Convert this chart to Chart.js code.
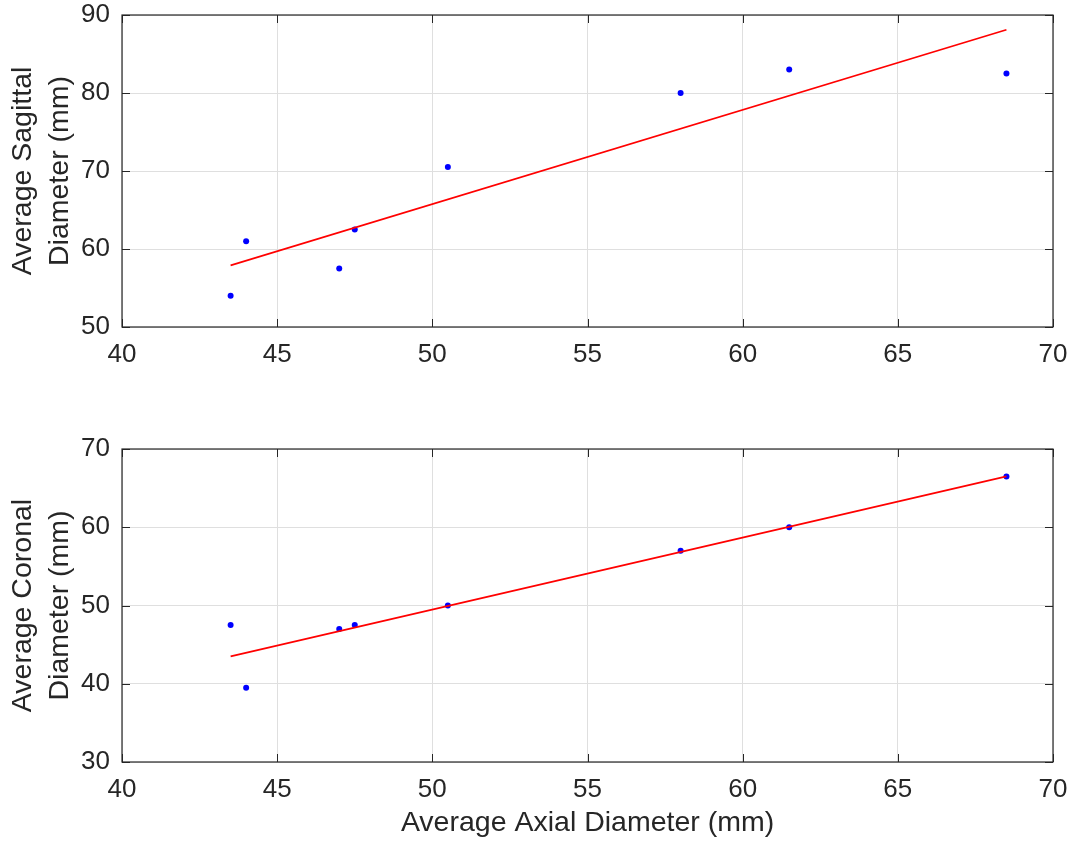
<!DOCTYPE html>
<html>
<head>
<meta charset="utf-8">
<script src="https://cdn.jsdelivr.net/npm/chart.js@4/dist/chart.umd.min.js"></script>
<style>
  html, body { margin: 0; padding: 0; background: #fff; }
  #wrap { position: relative; width: 1070px; height: 843px; }
  canvas { position: absolute; left: 0; }
  #sagittal-chart { top: 0; }
  #coronal-chart { top: 400px; }
</style>
</head>
<body>
<div id="wrap">
  <canvas id="sagittal-chart" width="1070" height="400"></canvas>
  <canvas id="coronal-chart" width="1070" height="443"></canvas>
</div>
<script>
const axialDiameter = [43.5, 44, 47, 47.5, 50.5, 58, 61.5, 68.5];
const sagittalDiameter = [54, 61, 57.5, 62.5, 70.5, 80, 83, 82.5];
const coronalDiameter = [47.5, 39.5, 47, 47.5, 50, 57, 60, 66.5];
/* fit line end points */
const fitAxial = [43.5, 68.5];
const sagittalFit = [57.9, 88.1];
const coronalFit = [43.5, 66.5];
const xTicks = [40, 45, 50, 55, 60, 65, 70];
const sagittalTicks = [50, 60, 70, 80, 90];
const coronalTicks = [30, 40, 50, 60, 70];

const textColor = "#262626";
const fontFamily = "'Liberation Sans', Arial, Helvetica, sans-serif";

function toPoints(xs, ys) {
  return xs.map((x, i) => ({ x: x, y: ys[i] }));
}

/* matlab style box with inward ticks on all four sides */
const boxPlugin = {
  id: "boxPlugin",
  afterDatasetsDraw(chart) {
    const { ctx, chartArea: a, scales } = chart;
    const len = 8;
    ctx.save();
    ctx.strokeStyle = textColor;
    ctx.lineWidth = 1;
    ctx.beginPath();
    scales.x.ticks.forEach((t) => {
      const px = Math.round(scales.x.getPixelForValue(t.value)) + 0.5;
      ctx.moveTo(px, a.bottom);
      ctx.lineTo(px, a.bottom - len);
      ctx.moveTo(px, a.top);
      ctx.lineTo(px, a.top + len);
    });
    scales.y.ticks.forEach((t) => {
      const py = Math.round(scales.y.getPixelForValue(t.value)) + 0.5;
      ctx.moveTo(a.left, py);
      ctx.lineTo(a.left + len, py);
      ctx.moveTo(a.right, py);
      ctx.lineTo(a.right - len, py);
    });
    ctx.stroke();
    ctx.lineWidth = 1.2;
    ctx.strokeRect(a.left, a.top, a.right - a.left, a.bottom - a.top);
    ctx.restore();
  },
};

function makeChart(el, yValues, fitValues, yTicks, yTitle, xTitle, opts) {
  return new Chart(el, {
    type: "scatter",
    data: {
      datasets: [
        {
          /* fit line first so it draws on top */
          type: "line",
          data: toPoints(fitAxial, fitValues),
          borderColor: "#ff0000",
          borderWidth: 1.6,
          pointRadius: 0,
          fill: false,
        },
        {
          data: toPoints(axialDiameter, yValues),
          backgroundColor: "#0000ff",
          borderColor: "#0000ff",
          pointRadius: 3,
          borderWidth: 0,
        },
      ],
    },
    options: {
      responsive: false,
      animation: false,
      devicePixelRatio: 1,
      layout: {
        padding: { left: 0, right: 17, top: opts.top, bottom: 0 },
      },
      plugins: {
        legend: { display: false },
        tooltip: { enabled: false },
      },
      scales: {
        x: {
          type: "linear",
          min: 40,
          max: 70,
          afterBuildTicks: (s) => {
            s.ticks = xTicks.map((v) => ({ value: v }));
          },
          afterFit: (s) => {
            s.height = opts.xHeight;
            s.paddingLeft = 0;
            s.paddingRight = 0;
          },
          grid: {
            color: "#dfdfdf",
            drawTicks: false,
          },
          border: { display: false },
          ticks: {
            padding: 12,
            color: textColor,
            font: { family: fontFamily, size: 26 },
          },
          title: {
            display: xTitle !== "",
            text: xTitle,
            color: textColor,
            padding: { top: 0, bottom: 1 },
            font: { family: fontFamily, size: 28.5, lineHeight: 1.32 },
          },
        },
        y: {
          type: "linear",
          min: yTicks[0],
          max: yTicks[yTicks.length - 1],
          afterBuildTicks: (s) => {
            s.ticks = yTicks.map((v) => ({ value: v }));
          },
          afterFit: (s) => {
            s.width = 122;
            s.paddingTop = 0;
            s.paddingBottom = 0;
          },
          grid: {
            color: "#dfdfdf",
            drawTicks: false,
          },
          border: { display: false },
          ticks: {
            padding: 12,
            color: textColor,
            font: { family: fontFamily, size: 26 },
          },
          title: {
            display: true,
            text: yTitle,
            color: textColor,
            padding: { top: 4, bottom: 0 },
            font: { family: fontFamily, size: 28.5, lineHeight: 1.32 },
          },
        },
      },
    },
    plugins: [boxPlugin],
  });
}

makeChart(
  document.querySelector("#sagittal-chart"),
  sagittalDiameter,
  sagittalFit,
  sagittalTicks,
  ["Average Sagittal", "Diameter (mm)"],
  "",
  { top: 15, xHeight: 73 }
);
makeChart(
  document.querySelector("#coronal-chart"),
  coronalDiameter,
  coronalFit,
  coronalTicks,
  ["Average Coronal", "Diameter (mm)"],
  "Average Axial Diameter (mm)",
  { top: 49, xHeight: 81 }
);
</script>
</body>
</html>
